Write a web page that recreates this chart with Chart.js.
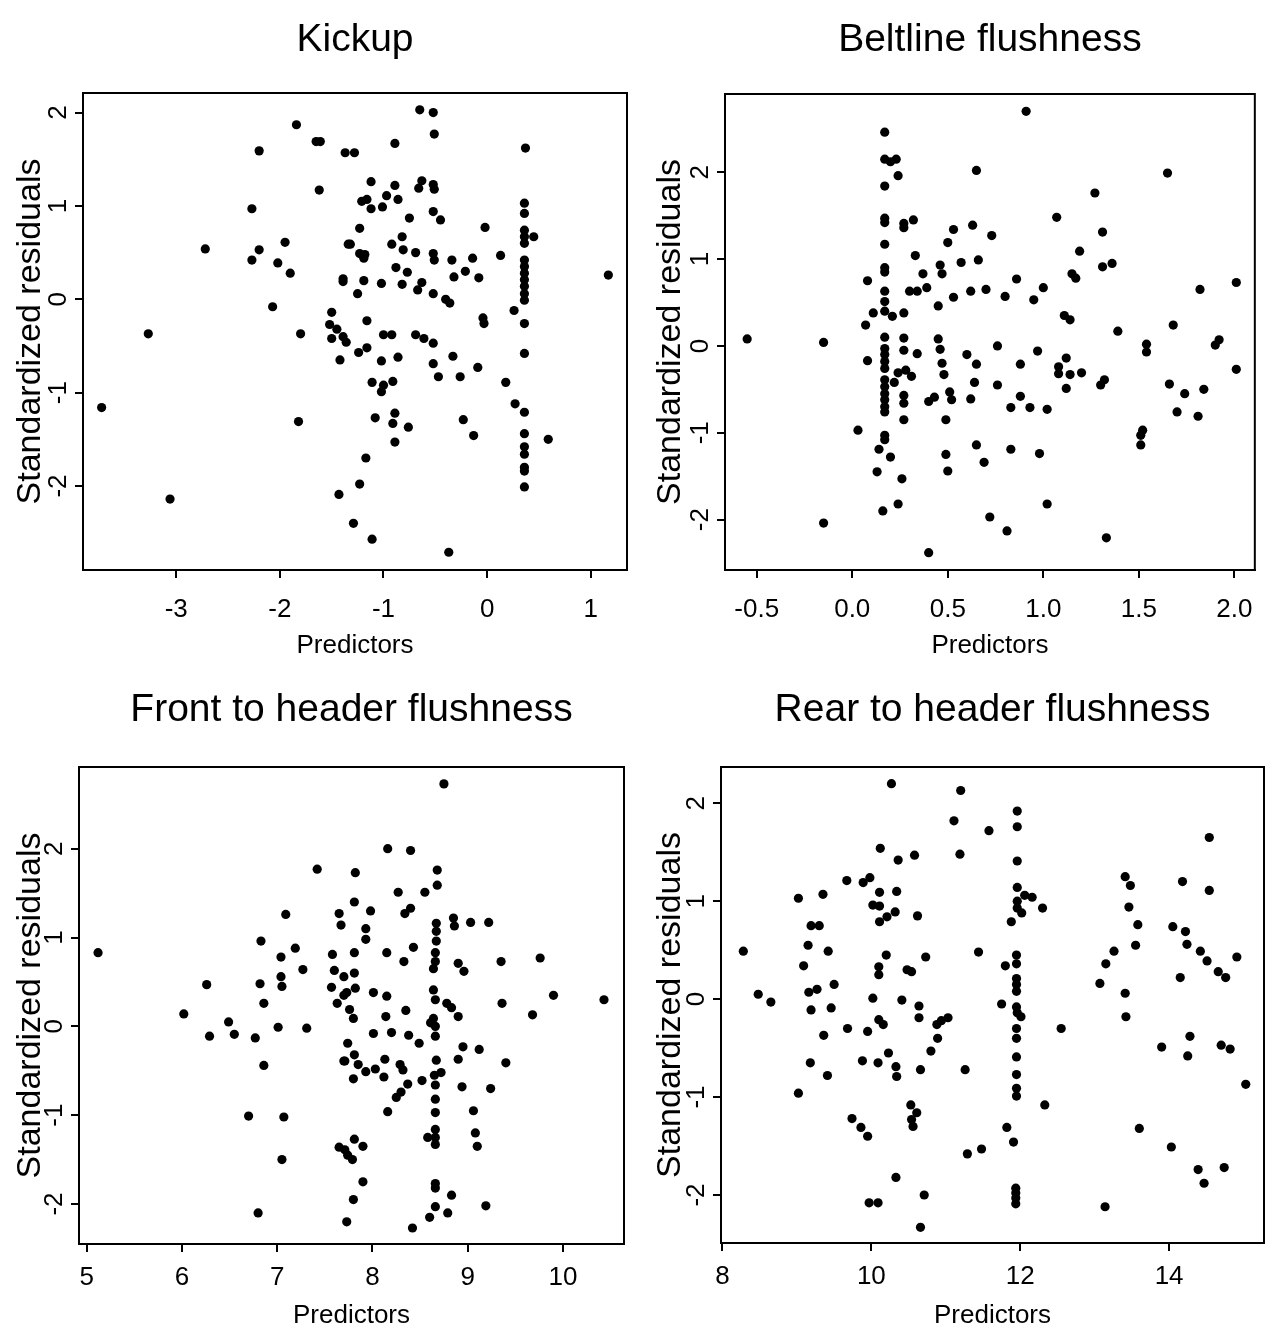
<!DOCTYPE html>
<html>
<head>
<meta charset="utf-8">
<script src="https://cdn.jsdelivr.net/npm/chart.js@4.4.0/dist/chart.umd.min.js"></script>
<style>
  body { margin: 0; background: #fff; }
  #wrap { position: relative; width: 1269px; height: 1339px; overflow: hidden; background: #fff; }
  canvas { position: absolute; }
</style>
</head>
<body>
<div id="wrap">
  <canvas id="kickup" width="640" height="670" style="left:0;top:0"></canvas>
  <canvas id="beltline" width="629" height="670" style="left:640px;top:0"></canvas>
  <canvas id="front" width="640" height="669" style="left:0;top:670px"></canvas>
  <canvas id="rear" width="629" height="669" style="left:640px;top:670px"></canvas>
</div>
<script>
// residual plots, one scatter per response
var residTicks = [-2, -1, 0, 1, 2];

var kickupXTicks = [-3, -2, -1, 0, 1];
var kickupX = [
  -1.84, -1.65, -1.61, -2.20, -1.37, -1.62, -2.27, -1.95, -2.72, -2.20, -2.27, -2.02, -1.34, -1.90, -1.39,
  -1.39, -2.07, -1.50, -1.52, -1.45, -1.50, -1.39, -1.36, -1.80, -1.42, -3.27, -3.72, -1.82, -3.06, -1.43,
  -0.65, -0.52, -0.51, -0.89, -1.28, 0.37, -1.12, -0.89, -0.63, -0.66, -0.52, -0.51, -1.21, -1.16, -1.12,
  -0.97, -1.01, -0.86, -0.75, -0.52, -0.45, -1.23, -1.32, -1.23, -1.18, -1.19, -0.02, -0.92, -0.82, -0.81,
  -0.69, -0.52, -0.51, -0.34, -0.14, 0.13, -0.32, -0.21, -0.08, -0.88, -0.77, -1.19, -1.02, -0.82, -0.63,
  -0.67, -1.25, -0.52, -0.40, -0.36,
  0.36, 0.36, 0.36, 0.36, 0.36, 0.36, 0.36, 0.36, 0.36, 0.36, 0.36, 0.36, 0.36, 0.36, 0.36, 0.36, 0.36,
  0.36, 0.36, 0.36, 0.36,
  0.45, 0.26, -0.04, -0.03, -1.16, -1.00, -0.92, -0.69, -0.61, -0.52, -1.24, -1.16, -1.02, -0.86, -0.52,
  -0.33, -0.47, -0.26, -0.09, 0.18, -1.11, -1.00, -0.91, -1.02, 0.27, -1.08, -0.89, -0.91, -0.76, -0.89,
  -0.23, -0.13, 0.59, -1.17, -1.23, -1.29, -1.11, -0.37, 1.17
];
var kickupY = [
  1.87, 1.69, 1.69, 1.59, 1.57, 1.17, 0.97, 0.61, 0.54, 0.53, 0.42, 0.39, 0.59, 0.28, 0.22,
  0.19, -0.08, -0.14, -0.27, -0.32, -0.42, -0.40, -0.46, -0.37, -0.65, -0.37, -1.16, -1.31, -2.14, -2.09,
  2.03, 2.00, 1.77, 1.67, 1.57, 1.62, 1.26, 1.22, 1.27, 1.19, 1.23, 1.18, 1.05, 1.07, 0.97,
  1.11, 0.99, 1.07, 0.87, 0.94, 0.85, 0.76, 0.59, 0.49, 0.48, 0.44, 0.77, 0.59, 0.67, 0.53,
  0.50, 0.49, 0.42, 0.42, 0.44, 0.47, 0.24, 0.30, 0.23, 0.34, 0.29, 0.20, 0.17, 0.16, 0.18,
  0.10, 0.06, 0.06, 0.00, -0.04,
  1.03, 0.92, 0.74, 0.67, 0.60, 0.42, 0.35, 0.28, 0.21, 0.14, 0.06, -0.01, -0.26, -0.58, -1.21, -1.44, -1.58,
  -1.66, -1.80, -1.84, -2.01,
  0.67, -0.12, -0.20, -0.26, -0.23, -0.38, -0.38, -0.38, -0.42, -0.47, -0.57, -0.52, -0.66, -0.62, -0.69,
  -0.61, -0.83, -0.83, -0.73, -0.89, -0.89, -0.92, -0.88, -0.99, -1.12, -1.27, -1.22, -1.33, -1.37, -1.53,
  -1.29, -1.46, -1.50, -1.70, -1.98, -2.40, -2.57, -2.71, 0.26
];

var beltXTicks = [-0.5, 0, 0.5, 1, 1.5, 2];
var beltX = [
  0.17, 0.17, 0.17, 0.17, 0.17, 0.17, 0.17, 0.17, 0.17, 0.17, 0.17, 0.17,
  0.17, 0.17, 0.17, 0.17, 0.17, 0.17, 0.17, 0.17, 0.17, 0.17, 0.17, 0.17,
  0.20, 0.23, 0.24, 0.27, 0.27, 0.32, 0.33, 0.37, 0.39, 0.30, 0.34, 0.08, 0.11, 0.21, 0.27,
  0.07, -0.55, -0.15, 0.08, 0.27, 0.27, 0.34, 0.24, 0.28, 0.31, 0.22, 0.27, 0.27, 0.27, 0.03,
  0.14, 0.20, 0.13, 0.26, 0.16, 0.24, -0.15, 0.40,
  0.65, 0.53, 0.50, 0.63, 0.46, 0.47, 0.57, 0.66, 0.53, 0.62, 0.45, 0.45, 0.46, 0.47, 0.48,
  0.51, 0.52, 0.40, 0.43, 0.49, 0.49, 0.50, 0.60, 0.65, 0.64, 0.62, 0.65,
  0.91, 1.65, 1.27, 1.07, 1.31, 0.73, 1.19, 1.31, 1.36, 1.15, 1.17, 0.86, 1.00, 0.70, 0.80,
  0.95, 1.82, 2.01, 1.11, 1.14, 1.68, 1.39, 1.54, 1.54, 0.76, 0.97, 1.90, 1.92, 1.12, 0.88,
  1.08, 1.08, 1.14, 1.20, 2.01, 1.30, 1.32, 0.76, 1.66, 1.12, 1.74, 1.84, 0.88, 0.83, 0.93,
  1.02, 1.70, 1.81, 1.52, 1.51, 1.51, 0.83, 0.98, 0.69, 1.02, 0.72, 0.81, 1.33
];
var beltY = [
  2.46, 2.15, 1.84, 1.47, 1.42, 1.17, 0.90, 0.85, 0.63, 0.51, 0.40, 0.10,
  -0.03, -0.10, -0.18, -0.26, -0.39, -0.47, -0.55, -0.62, -0.70, -0.76, -1.03, -1.08,
  2.12, 2.15, 1.96, 1.41, 1.36, 1.45, 1.04, 0.83, 0.67, 0.63, 0.63, 0.75, 0.38, 0.34, 0.38,
  0.24, 0.08, 0.04, -0.17, 0.09, -0.05, -0.09, -0.31, -0.28, -0.35, -0.42, -0.57, -0.66, -0.85, -0.97,
  -1.19, -1.28, -1.45, -1.53, -1.90, -1.82, -2.04, -2.38,
  2.02, 1.34, 1.19, 1.39, 0.93, 0.83, 0.96, 0.99, 0.56, 0.63, 0.46, 0.08, -0.04, -0.20, -0.33,
  -0.53, -0.62, -0.64, -0.59, -0.85, -1.25, -1.44, -0.10, -0.21, -0.42, -0.61, -1.14,
  2.70, 1.99, 1.76, 1.48, 1.31, 1.27, 1.09, 0.91, 0.95, 0.83, 0.78, 0.77, 0.67, 0.65, 0.57,
  0.53, 0.65, 0.73, 0.35, 0.30, 0.24, 0.17, 0.02, -0.07, 0.00, -0.06, 0.01, 0.07, -0.14, -0.21,
  -0.24, -0.32, -0.33, -0.31, -0.27, -0.45, -0.39, -0.45, -0.44, -0.49, -0.55, -0.50, -0.58, -0.71, -0.71,
  -0.73, -0.76, -0.81, -0.97, -1.03, -1.14, -1.19, -1.24, -1.34, -1.82, -1.97, -2.13, -2.21
];

var frontXTicks = [5, 6, 7, 8, 9, 10];
var frontX = [
  5.12, 7.42, 7.09, 7.65, 7.67, 6.83, 7.19, 7.04, 7.58, 7.27, 7.60, 7.70, 7.04, 7.05, 6.82, 6.26, 7.57,
  7.70, 6.86, 7.63, 6.02, 6.49, 6.29, 6.55, 6.77, 7.01, 7.31, 6.86, 7.70, 6.70, 7.07, 7.05, 7.65, 6.80,
  8.75, 8.16, 8.40, 7.82, 8.68, 8.68, 8.27, 8.55, 7.81, 8.34, 8.40, 7.98, 7.93, 7.93, 8.67, 8.67, 8.67,
  8.85, 8.86, 9.03, 9.22, 7.81, 8.15, 8.43, 8.33, 8.66, 8.66, 8.64, 8.90, 8.96, 9.35, 9.76, 7.81, 7.82,
  7.73, 8.01, 8.15, 8.64, 8.66, 8.78, 8.83, 8.90, 9.90, 10.43, 9.36, 9.68, 7.76, 7.80, 8.35, 8.14, 8.64,
  8.61, 8.66, 8.66, 8.01, 8.20, 8.38, 8.49, 7.74, 8.95, 9.12, 7.81, 7.71, 7.85, 7.93, 8.03, 8.13, 8.12,
  8.29, 8.32, 7.80, 8.37, 8.52, 8.67, 8.65, 8.72, 8.66, 8.90, 9.40, 8.94, 9.24, 8.25, 8.30, 8.66, 8.16,
  8.66, 9.06, 8.66, 8.58, 8.66, 8.66, 9.08, 9.10, 7.81, 7.90, 7.71, 7.74, 7.79, 7.90, 8.66, 8.66, 8.83,
  7.80, 8.66, 8.79, 8.60, 9.19, 7.73, 8.42
];
var frontY = [
  0.83, 1.77, 1.26, 1.27, 1.14, 0.96, 0.88, 0.78, 0.81, 0.64, 0.63, 0.56, 0.56, 0.45, 0.48, 0.47, 0.44,
  0.35, 0.26, 0.26, 0.14, 0.05, -0.11, -0.09, -0.13, -0.01, -0.02, -0.44, -0.39, -1.01, -1.02, -1.50, -1.36, -2.10,
  2.73, 2.00, 1.98, 1.73, 1.76, 1.59, 1.51, 1.51, 1.40, 1.27, 1.33, 1.30, 1.10, 0.98, 1.16, 1.07, 0.96,
  1.22, 1.13, 1.17, 1.17, 0.83, 0.83, 0.89, 0.73, 0.83, 0.73, 0.65, 0.71, 0.62, 0.73, 0.77, 0.60, 0.43,
  0.38, 0.38, 0.34, 0.41, 0.30, 0.26, 0.21, 0.11, 0.35, 0.30, 0.26, 0.13, 0.19, 0.09, 0.18, 0.11, 0.09,
  0.04, 0.00, -0.11, -0.08, -0.07, -0.10, -0.19, -0.19, -0.23, -0.26, -0.32, -0.39, -0.43, -0.51, -0.48, -0.37, -0.57,
  -0.43, -0.49, -0.59, -0.65, -0.61, -0.38, -0.55, -0.52, -0.66, -0.37, -0.41, -0.68, -0.70, -0.80, -0.74, -0.82, -0.96,
  -0.97, -0.95, -1.16, -1.25, -1.25, -1.33, -1.20, -1.35, -1.27, -1.35, -1.39, -1.45, -1.50, -1.75, -1.77, -1.82, -1.90,
  -1.95, -2.03, -2.10, -2.15, -2.02, -2.20, -2.27
];

var rearXTicks = [8, 10, 12, 14];
var rearX = [
  10.27, 11.20, 11.11, 11.19, 10.12, 10.58, 10.36, 9.67, 9.89, 9.98, 10.11, 10.34, 9.02, 9.35, 10.02,
  10.11, 10.32, 10.21, 10.11, 10.62, 9.19, 9.30, 9.15, 9.42, 8.28, 9.09, 10.20, 10.73, 10.10, 10.10,
  10.48, 10.54, 11.44, 8.48, 8.65, 9.16, 9.27, 9.50, 9.19, 9.46, 10.02, 10.41, 10.64, 10.64, 10.10,
  10.16, 10.88, 10.94, 11.03, 10.89, 9.36, 9.68, 9.95, 10.23, 10.80, 9.18, 9.41, 9.88, 10.09, 10.33,
  10.34, 10.66, 11.26, 9.02, 10.53, 10.61, 10.54, 10.56, 9.74, 9.86, 9.95, 11.29, 11.48, 10.33, 10.71,
  9.97, 10.09, 10.66,
  11.96, 11.96, 11.58, 11.96, 14.54, 13.41, 13.48, 14.18, 14.54, 11.96, 12.06, 12.16, 11.96, 11.96, 12.02,
  12.30, 11.88, 13.46, 13.58, 13.55, 14.05, 14.22, 14.24, 14.42, 14.51, 14.66, 14.76, 14.91, 14.15, 13.26,
  13.15, 13.07, 13.41, 13.42, 11.80, 11.95, 11.95, 11.95, 11.95, 11.95, 11.75, 11.95, 11.96, 12.01, 11.95,
  11.95, 12.55, 11.95, 11.95, 11.95, 11.95, 12.33, 11.82, 11.91, 11.94, 11.94, 11.94, 11.94, 13.14, 14.28,
  13.90, 14.25, 14.70, 14.82, 15.03, 13.60, 14.03, 14.39, 14.47, 14.74
];
var rearY = [
  2.20, 2.13, 1.82, 1.48, 1.54, 1.47, 1.42, 1.21, 1.19, 1.24, 1.09, 1.10, 1.03, 1.07, 0.96,
  0.95, 0.89, 0.84, 0.79, 0.85, 0.75, 0.75, 0.55, 0.49, 0.49, 0.34, 0.45, 0.43, 0.33, 0.25,
  0.30, 0.28, 0.48, 0.05, -0.03, 0.07, 0.10, 0.15, -0.11, -0.09, 0.01, -0.01, -0.07, -0.19, -0.21,
  -0.26, -0.26, -0.22, -0.19, -0.40, -0.37, -0.30, -0.33, -0.55, -0.53, -0.65, -0.78, -0.63, -0.65, -0.69,
  -0.79, -0.72, -0.72, -0.96, -1.08, -1.16, -1.23, -1.30, -1.22, -1.31, -1.40, -1.58, -1.53, -1.82, -2.00,
  -2.08, -2.08, -2.33,
  1.92, 1.76, 1.72, 1.41, 1.65, 1.25, 1.16, 1.20, 1.11, 1.14, 1.06, 1.04, 1.00, 0.93, 0.88,
  0.93, 0.79, 0.94, 0.76, 0.55, 0.74, 0.69, 0.56, 0.49, 0.39, 0.28, 0.22, 0.43, 0.22, 0.49,
  0.36, 0.16, 0.06, -0.18, 0.34, 0.45, 0.36, 0.21, 0.15, 0.08, -0.05, -0.08, -0.14, -0.18, -0.30,
  -0.40, -0.30, -0.59, -0.77, -0.91, -0.99, -1.08, -1.31, -1.46, -1.93, -1.98, -2.03, -2.09, -2.12, -0.38,
  -0.49, -0.58, -0.47, -0.51, -0.87, -1.32, -1.51, -1.74, -1.88, -1.72
];

// no condensed face is installed, so sizes are cut down to match the reference text widths
var NARROW = "'Liberation Sans Narrow', 'Arial Narrow', 'Liberation Sans', sans-serif";
var REGULAR = "'Liberation Sans', Arial, sans-serif";

Chart.defaults.color = '#000';

// box round the plotting region
var frame = {
  id: 'frame',
  afterDraw: function(chart) {
    var a = chart.chartArea, ctx = chart.ctx;
    ctx.save();
    ctx.strokeStyle = '#000';
    ctx.lineWidth = 2;
    ctx.strokeRect(a.left, a.top, a.right - a.left, a.bottom - a.top);
    ctx.restore();
  }
};

function makePanel(id, title, xs, ys, xr, yr, xTicks, digits, L) {
  var points = xs.map(function(x, i) { return { x: x, y: ys[i] }; });
  var tickGrid = { display: true, drawOnChartArea: false, drawTicks: true, tickLength: 8, color: '#000', lineWidth: 2 };
  return new Chart(document.getElementById(id), {
    type: 'scatter',
    data: {
      datasets: [{
        data: points,
        backgroundColor: '#000',
        borderWidth: 0,
        pointRadius: 4.6,
        pointHoverRadius: 4.6
      }]
    },
    options: {
      responsive: false,
      animation: false,
      events: [],
      layout: { padding: { left: 0, right: L.padRight, top: 0, bottom: 0 } },
      plugins: {
        legend: { display: false },
        tooltip: { enabled: false }
      },
      scales: {
        // empty top axis, only there to carry the panel title centred over the plot box
        top: {
          type: 'linear',
          position: 'top',
          min: xr[0], max: xr[1],
          bounds: 'data',
          afterFit: function(s) { s.height = L.top; },
          ticks: { display: false },
          grid: { display: false, drawTicks: false },
          border: { display: false },
          title: {
            display: true, text: title, color: '#000',
            font: { family: NARROW, size: 39 },
            padding: { top: 16.6, bottom: 0 }
          }
        },
        x: {
          type: 'linear',
          min: xr[0], max: xr[1],
          bounds: 'data',
          afterBuildTicks: function(s) { s.ticks = xTicks.map(function(v) { return { value: v }; }); },
          afterFit: function(s) { s.height = L.xHeight; },
          ticks: {
            autoSkip: false, maxRotation: 0, padding: L.xPad, color: '#000',
            font: { family: NARROW, size: 26 },
            callback: function(v) { return v.toFixed(digits); }
          },
          grid: tickGrid,
          border: { display: true, color: '#000', width: 2 },
          title: {
            display: true, text: 'Predictors', color: '#000',
            font: { family: NARROW, size: 26 },
            padding: { top: 0, bottom: L.xTitlePad }
          }
        },
        y: {
          type: 'linear',
          min: yr[0], max: yr[1],
          bounds: 'data',
          afterBuildTicks: function(s) { s.ticks = residTicks.map(function(v) { return { value: v }; }); },
          afterFit: function(s) { s.width = L.yWidth; },
          ticks: {
            autoSkip: false, minRotation: 90, maxRotation: 90, crossAlign: 'center', padding: 5, color: '#000',
            font: { family: NARROW, size: 26 },
            callback: function(v) { return String(v); }
          },
          grid: tickGrid,
          border: { display: true, color: '#000', width: 2 },
          title: {
            display: true, text: 'Standardized residuals', color: '#000',
            font: { family: REGULAR, size: 34 },
            padding: { top: 10, bottom: 0 }
          }
        }
      }
    },
    plugins: [frame]
  });
}

makePanel('kickup', 'Kickup', kickupX, kickupY, [-3.90, 1.35], [-2.90, 2.21], kickupXTicks, 0,
  { padRight: 13, top: 93, xHeight: 100, xPad: 16, xTitlePad: 8.4, yWidth: 83 });
makePanel('beltline', 'Beltline flushness', beltX, beltY, [-0.666, 2.107], [-2.58, 2.90], beltXTicks, 1,
  { padRight: 2, top: 94, xHeight: 100, xPad: 16, xTitlePad: 8.4, yWidth: 85 });
makePanel('front', 'Front to header flushness', frontX, frontY, [4.92, 10.64], [-2.45, 2.92], frontXTicks, 0,
  { padRight: 16, top: 97, xHeight: 95, xPad: 10.4, xTitlePad: 7.4, yWidth: 79 });
makePanel('rear', 'Rear to header flushness', rearX, rearY, [7.98, 15.275], [-2.49, 2.37], rearXTicks, 0,
  { padRight: 5, top: 97, xHeight: 96, xPad: 10.4, xTitlePad: 7.4, yWidth: 81 });
</script>
</body>
</html>
